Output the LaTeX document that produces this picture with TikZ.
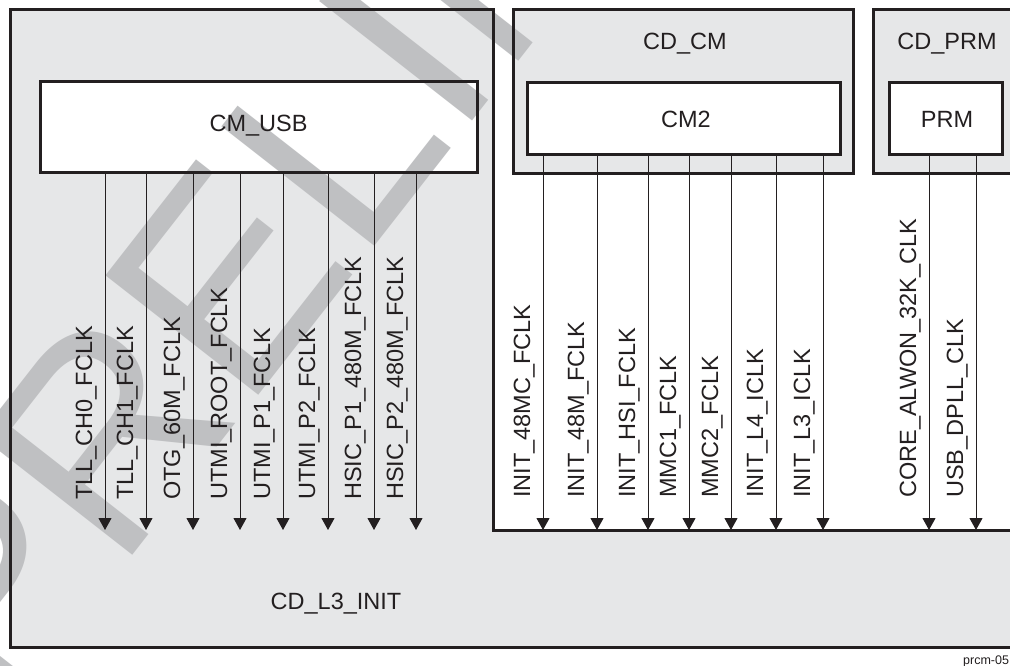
\documentclass[tikz,border=0pt]{standalone}
\usepackage{fontspec}
\setmainfont{Liberation Sans}
\usetikzlibrary{arrows.meta}
\definecolor{fillgray}{HTML}{E6E7E8}
\definecolor{wmgray}{HTML}{BFC0C2}
\definecolor{ink}{HTML}{231F20}
\newcommand\lblfont{\fontsize{23.5}{28}\selectfont}
\newcommand\wmfont{\fontsize{282}{300}\selectfont}
\newcommand\tagfont{\fontsize{12.5}{14}\selectfont}
\pgfdeclarelayer{bg}
\pgfdeclarelayer{wm}
\pgfsetlayers{bg,wm,main}
\begin{document}
\begin{tikzpicture}[x=1pt,y=-1pt,
  box/.style={draw=ink,line width=3pt,inner sep=0pt},
  lbl/.style={font=\lblfont,text=ink,inner sep=0pt},
  vlbl/.style={lbl,rotate=90,anchor=base west},
  clk/.style={draw=ink,line width=1pt,-{Triangle[width=13pt,length=12pt]}},
  cdframe/.style={draw=ink,line width=3pt,line join=miter}]
\useasboundingbox (0,0) rectangle (1010,666);

% boxes (borders on main layer)
\node[box,minimum width=437pt,minimum height=91pt] (cmusb) at (258.5,127.5) {};
\node[box,minimum width=340pt,minimum height=164pt] (cdcm) at (683,92) {};
\node[box,minimum width=313pt,minimum height=72pt] (cm2) at (683.5,119) {};
\node[box,minimum width=167pt,minimum height=164pt] (cdprm) at (956.5,92) {};
\node[box,minimum width=113pt,minimum height=72pt] (prm) at (945.5,119) {};

% domain outline CD_L3_INIT
\draw[cdframe] (10,10) -- (493,10) -- (493,530) -- (1040,530) -- (1040,647) -- (10,647) -- cycle;

% fills
\begin{pgfonlayer}{bg}
  \fill[white] (0,0) rectangle (1010,666);
  \fill[fillgray] (10,10) -- (493,10) -- (493,530) -- (1040,530) -- (1040,647) -- (10,647) -- cycle;
  \fill[fillgray] (cdcm.south west) rectangle (cdcm.north east);
  \fill[fillgray] (cdprm.south west) rectangle (cdprm.north east);
  \fill[white] (cmusb.south west) rectangle (cmusb.north east);
  \fill[white] (cm2.south west) rectangle (cm2.north east);
  \fill[white] (prm.south west) rectangle (prm.north east);
\end{pgfonlayer}

% watermark
\begin{pgfonlayer}{wm}
  \node[rotate=52,anchor=base west,inner sep=0pt,text=wmgray,font=\wmfont] (wmark) at (3,722) {PRELIMINARY};
\end{pgfonlayer}

% titles
\node[lbl,anchor=base] (tcmusb) at (258.5,132) {CM\_USB};
\node[lbl,anchor=base] (tcdcm) at (685,49.5) {CD\_CM};
\node[lbl,anchor=base] (tcm2) at (686,128) {CM2};
\node[lbl,anchor=base] (tcdprm) at (947,49.5) {CD\_PRM};
\node[lbl,anchor=base] (tprm) at (947,128) {PRM};
\node[lbl,anchor=base] (tcdl3) at (336,609) {CD\_L3\_INIT};
\node[font=\tagfont,text=ink,inner sep=0pt,anchor=base west] (tag) at (963,664) {prcm-05};

% clock arrows from CM_USB
\foreach \x/\n/\t in {105/u1/TLL\_CH0\_FCLK, 146/u2/TLL\_CH1\_FCLK, 193/u3/OTG\_60M\_FCLK,
  240/u4/UTMI\_ROOT\_FCLK, 283/u5/UTMI\_P1\_FCLK, 328/u6/UTMI\_P2\_FCLK,
  374/u7/HSIC\_P1\_480M\_FCLK, 416/u8/HSIC\_P2\_480M\_FCLK}{
  \coordinate (\n) at (\x,530);
  \draw[clk] (cmusb.south -| \n) -- (\n);
  \node[vlbl] (l\n) at (\x-13,500) {\t};
}
% clock arrows from CM2
\foreach \x/\n/\t in {543/c1/INIT\_48MC\_FCLK, 597/c2/INIT\_48M\_FCLK, 648/c3/INIT\_HSI\_FCLK,
  689/c4/MMC1\_FCLK, 731/c5/MMC2\_FCLK, 776/c6/INIT\_L4\_ICLK, 823/c7/INIT\_L3\_ICLK}{
  \coordinate (\n) at (\x,530);
  \draw[clk] (cm2.south -| \n) -- (\n);
  \node[vlbl] (l\n) at (\x-13,498) {\t};
}
% clock arrows from PRM
\foreach \x/\n/\t in {929/p1/CORE\_ALWON\_32K\_CLK, 976/p2/USB\_DPLL\_CLK}{
  \coordinate (\n) at (\x,530);
  \draw[clk] (prm.south -| \n) -- (\n);
  \node[vlbl] (l\n) at (\x-13,498) {\t};
}
\end{tikzpicture}
\end{document}
